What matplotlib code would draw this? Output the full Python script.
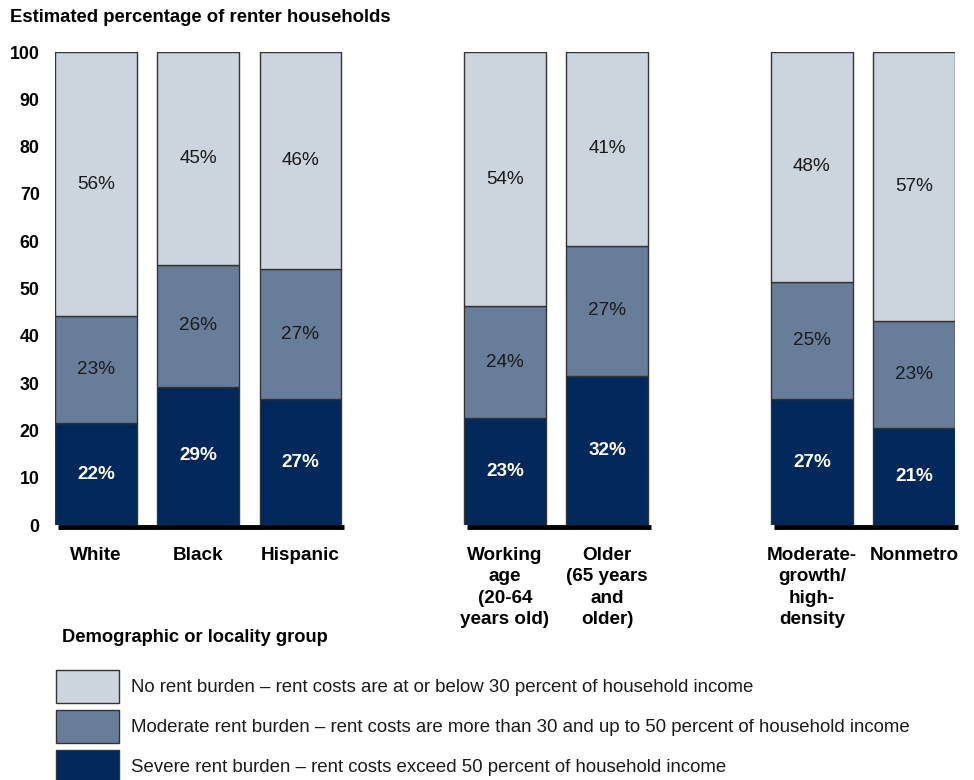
import matplotlib
matplotlib.use("Agg")
import matplotlib.pyplot as plt
import matplotlib.transforms as mtransforms
from matplotlib.patches import Rectangle

plt.rcParams['font.family'] = ['Liberation Sans', 'DejaVu Sans']

# data
categories = ["White", "Black", "Hispanic",
              "Working\nage\n(20-64\nyears old)", "Older\n(65 years\nand\nolder)",
              "Moderate-\ngrowth/\nhigh-\ndensity", "Nonmetro"]
positions = [0, 1, 2, 4, 5, 7, 8]
groups = [(0, 2), (4, 5), (7, 8)]

severe = [21.5, 29.2, 26.6, 22.6, 31.5, 26.6, 20.6]
moderate = [22.6, 25.8, 27.5, 23.7, 27.5, 24.8, 22.6]
no_burden = [55.9, 45.0, 45.9, 53.7, 41.0, 48.6, 56.8]

severe_labels = ["22%", "29%", "27%", "23%", "32%", "27%", "21%"]
moderate_labels = ["23%", "26%", "27%", "24%", "27%", "25%", "23%"]
no_burden_labels = ["56%", "45%", "46%", "54%", "41%", "48%", "57%"]

legend_labels = [
    "No rent burden \u2013 rent costs are at or below 30 percent of household income",
    "Moderate rent burden \u2013 rent costs are more than 30 and up to 50 percent of household income",
    "Severe rent burden \u2013 rent costs exceed 50 percent of household income",
]

c_light = "#CCD4DE"
c_mid = "#687D99"
c_dark = "#00285A"
edge = "#333333"
width = 0.8

fig = plt.figure(figsize=(9.74, 7.8), dpi=100)
ax = fig.add_axes([55 / 974, 1 - 525 / 780, 900 / 974, 473 / 780])

bottom2 = [s + m for s, m in zip(severe, moderate)]
ax.bar(positions, severe, width, color=c_dark, edgecolor=edge, linewidth=1)
ax.bar(positions, moderate, width, bottom=severe, color=c_mid, edgecolor=edge, linewidth=1)
ax.bar(positions, no_burden, width, bottom=bottom2, color=c_light, edgecolor=edge, linewidth=1)

for i, x in enumerate(positions):
    ax.text(x, severe[i] / 2, severe_labels[i], ha='center', va='center',
            color='white', fontsize=13.6, fontweight='bold')
    ax.text(x, severe[i] + moderate[i] / 2, moderate_labels[i], ha='center', va='center',
            color='#1a1a1a', fontsize=13.6)
    ax.text(x, bottom2[i] + no_burden[i] / 2, no_burden_labels[i], ha='center', va='center',
            color='#1a1a1a', fontsize=13.6)

# shadow base line under each group
for a, b in groups:
    ax.plot([a - width / 2 + 0.03, b + width / 2 + 0.03], [-0.45, -0.45], color='black',
            lw=3.5, solid_capstyle='butt', clip_on=False, zorder=0)

ax.set_xlim(-width / 2, 8 + width / 2)
ax.set_ylim(0, 100)
ax.set_yticks(range(0, 101, 10))
ax.set_xticks(positions)
ax.set_xticklabels(categories, fontsize=13.6, fontweight='bold', linespacing=1.32)
shift = mtransforms.ScaledTranslation(0, -3 / 72, fig.dpi_scale_trans)
for lab in ax.get_yticklabels():
    lab.set_fontweight('bold')
    lab.set_fontsize(12.8)
    lab.set_transform(lab.get_transform() + shift)
ax.tick_params(axis='y', length=0, pad=11)
ax.tick_params(axis='x', length=0, pad=16)
for s in ax.spines.values():
    s.set_visible(False)

fig.text(10 / 974, 1 - 17 / 780, "Estimated percentage of renter households",
         fontsize=13.3, fontweight='bold', va='center', ha='left')
fig.text(62 / 974, 1 - 637 / 780, "Demographic or locality group",
         fontsize=13.2, fontweight='bold', va='center', ha='left')

# legend drawn by hand
legend_colors = [c_light, c_mid, c_dark]
for k, (lab, col) in enumerate(zip(legend_labels, legend_colors)):
    y_top = 670 + k * 40
    fig.patches.append(Rectangle((56 / 974, 1 - (y_top + 33) / 780), 63 / 974, 33 / 780,
                                 transform=fig.transFigure, facecolor=col,
                                 edgecolor=edge, linewidth=1))
    fig.text(131 / 974, 1 - (y_top + 17) / 780, lab, fontsize=13.4, va='center', ha='left',
             color='#1a1a1a')

fig.savefig("out.png", dpi=100)
